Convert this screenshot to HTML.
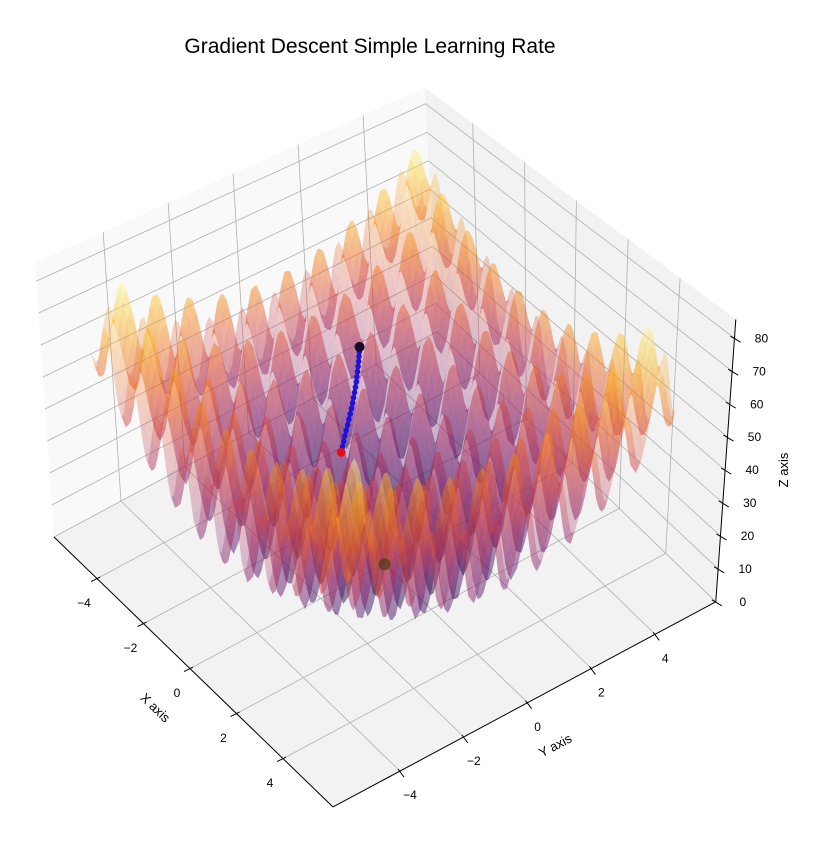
<!DOCTYPE html>
<html><head><meta charset="utf-8"><style>
html,body{margin:0;padding:0;background:#fff;}
svg{display:block;font-family:"Liberation Sans","DejaVu Sans",sans-serif;}
</style></head><body>
<svg id="chart" width="829" height="866" viewBox="0 0 829 866" xmlns="http://www.w3.org/2000/svg">
<text x="370" y="53" font-size="21" text-anchor="middle" fill="#000">Gradient Descent Simple Learning Rate</text>
<g id="panes"></g>
<g id="grid"></g>
<g id="surface"></g>
<g id="axes"></g>
<g id="marks"></g>
<text x="155" y="712" font-size="13" text-anchor="middle" transform="rotate(44 155 708)">X axis</text>
<text x="555" y="750" font-size="13" text-anchor="middle" transform="rotate(-28 555 745)">Y axis</text>
<text x="788" y="470" font-size="13" text-anchor="middle" transform="rotate(-90 788 470)">Z axis</text>
</svg>
<script>
// ---- data ----
const xTicks = [-4, -2, 0, 2, 4];
const yTicks = [-4, -2, 0, 2, 4];
const zTicks = [0, 10, 20, 30, 40, 50, 60, 70, 80];
const pathX = [-1, -1, -1, -1, -1, -1, -1, -1, -1, -1, -1, -1, -1, -1, -1, -1, -1, -1, -1, -1, -1];
const pathY = [0, -0.01, -0.02, -0.03, -0.05, -0.07, -0.09, -0.11, -0.14, -0.17, -0.2, -0.23, -0.27, -0.31, -0.35, -0.39, -0.44, -0.48, -0.52, -0.56, -0.6];
const pathZ = [60.9, 59.4, 58, 56.5, 55, 53.5, 52, 50.5, 49, 47.5, 46, 44.5, 43, 41.5, 40, 38.5, 37, 35.5, 34, 32.5, 31];
const minimumPoint = [0, 0, 0];
const surfRange = [-5.12, 5.12];
const surfN = 100;

// ---- axes ----
const XMIN=-5.85, XMAX=6.15, YMIN=-6.1, YMAX=5.9, ZMIN=0, ZMAX=85.7;
function P(x,y,z){
  const bx=384.6+23.25*x+31.9*y, by=564.3+22.5*x-17.1*y;
  const sz=3.238+0.037*x-0.029*y;
  const sh=(0.16+2.667*x+0.583*y)/85.7;
  return [bx+sh*z, by-sz*z];
}
const NS='http://www.w3.org/2000/svg';
function mk(tag,attrs,parent){const e=document.createElementNS(NS,tag);for(const k in attrs)e.setAttribute(k,attrs[k]);parent.appendChild(e);return e;}
function pts(a){return a.map(p=>p[0].toFixed(1)+','+p[1].toFixed(1)).join(' ');}
function rastrigin(x,y){return 20+x*x-10*Math.cos(2*Math.PI*x)+y*y-10*Math.cos(2*Math.PI*y);}

// panes
const panes=document.getElementById('panes');
let e;
e=mk('polygon',{points:pts([P(XMIN,YMIN,0),P(XMAX,YMIN,0),P(XMAX,YMAX,0),P(XMIN,YMAX,0)]),fill:'#f2f2f2'},panes);


e=mk('polygon',{points:pts([P(XMIN,YMIN,0),P(XMIN,YMAX,0),P(XMIN,YMAX,ZMAX),P(XMIN,YMIN,ZMAX)]),fill:'#f9f9f9'},panes);


e=mk('polygon',{points:pts([P(XMIN,YMAX,0),P(XMAX,YMAX,0),P(XMAX,YMAX,ZMAX),P(XMIN,YMAX,ZMAX)]),fill:'#f2f2f2'},panes);



// grid
const grid=document.getElementById('grid');
function gl(pa,name){const l=mk('polyline',{points:pts(pa),fill:'none',stroke:'#b0b0b0','stroke-width':0.8},grid);}
xTicks.forEach(v=>gl([P(v,YMIN,0),P(v,YMAX,0),P(v,YMAX,ZMAX)],'x-gridline'));
yTicks.forEach(v=>gl([P(XMAX,v,0),P(XMIN,v,0),P(XMIN,v,ZMAX)],'y-gridline'));
zTicks.forEach(v=>gl([P(XMIN,YMIN,v),P(XMIN,YMAX,v),P(XMAX,YMAX,v)],'z-gridline'));

// surface (inferno colormap)
const cm=[[0,0,4],[40,11,84],[101,21,110],[159,42,99],[212,72,66],[245,125,21],[250,193,39],[252,255,164]];
function cmap(t){t=Math.max(0,Math.min(1,t))*(cm.length-1);const i=Math.min(cm.length-2,Math.floor(t)),f=t-i,a=cm[i],b=cm[i+1];
  return 'rgb('+Math.round(a[0]+(b[0]-a[0])*f)+','+Math.round(a[1]+(b[1]-a[1])*f)+','+Math.round(a[2]+(b[2]-a[2])*f)+')';}
const sg=document.getElementById('surface');
const xs=[];for(let i=0;i<surfN;i++)xs.push(surfRange[0]+(surfRange[1]-surfRange[0])*i/(surfN-1));
const Z=xs.map(x=>xs.map(y=>rastrigin(x,y)));
const zmaxS=Math.max(...Z.map(r=>Math.max(...r)));
const quads=[];
for(let i=0;i<surfN-1;i++)for(let j=0;j<surfN-1;j++){
  const zc=(Z[i][j]+Z[i+1][j]+Z[i][j+1]+Z[i+1][j+1])/4;
  quads.push({d:xs[i]-xs[j], i, j, zc});
}
quads.sort((a,b)=>(a.d-b.d)||(a.zc-b.zc));
let frag=document.createDocumentFragment();
for(const q of quads){
  const i=q.i,j=q.j;
  const poly=document.createElementNS(NS,'polygon');
  poly.setAttribute('points',pts([P(xs[i],xs[j],Z[i][j]),P(xs[i+1],xs[j],Z[i+1][j]),P(xs[i+1],xs[j+1],Z[i+1][j+1]),P(xs[i],xs[j+1],Z[i][j+1])]));
  poly.setAttribute('fill',cmap(q.zc/zmaxS));
  poly.setAttribute('fill-opacity','0.28');
  frag.appendChild(poly);
}
sg.appendChild(frag);

// axes lines & ticks
const ax=document.getElementById('axes');
function line(a,b,name,w){const l=mk('line',{x1:a[0],y1:a[1],x2:b[0],y2:b[1],stroke:'#000','stroke-width':w||1},ax);}
function label(p,txt,name){const t=mk('text',{x:p[0],y:p[1],'font-size':12,'text-anchor':'middle','dominant-baseline':'middle'},ax);t.textContent=txt;}
function fmt(v){return v<0?'\u2212'+Math.abs(v):String(v);}
line(P(XMIN,YMIN,0),P(XMAX,YMIN,0),'x-axis-line');
line(P(XMAX,YMIN,0),P(XMAX,YMAX,0),'y-axis-line');
line(P(XMAX,YMAX,0),P(XMAX,YMAX,ZMAX),'z-axis-line');
xTicks.forEach(v=>{const p=P(v,YMIN,0);line([p[0]+3,p[1]-1.5],[p[0]-6,p[1]+3],'x-tick');label([p[0]-13,p[1]+25],fmt(v),'x-tick-label');});
yTicks.forEach(v=>{const p=P(XMAX,v,0);line([p[0]-2,p[1]-2],[p[0]+4,p[1]+6],'y-tick');label([p[0]+10,p[1]+25],fmt(v),'y-tick-label');});
zTicks.forEach(v=>{const p=P(XMAX,YMAX,v);line([p[0]-4,p[1]-2],[p[0]+6,p[1]+4],'z-tick');label([p[0]+27,p[1]+1],fmt(v),'z-tick-label');});

// descent path
const mg=document.getElementById('marks');
const mp=P(minimumPoint[0],minimumPoint[1],minimumPoint[2]);
e=mk('circle',{cx:mp[0],cy:mp[1],r:6,fill:'#4a3a10','fill-opacity':0.7},mg);


const pp=pathX.map((x,k)=>P(x,pathY[k],pathZ[k]));
e=mk('polyline',{points:pts(pp),fill:'none',stroke:'#2010d8','stroke-width':3.5,'stroke-linecap':'round'},mg);


pp.forEach(p=>{const c=mk('circle',{cx:p[0],cy:p[1],r:2.8,fill:'#2010d8'},mg);

});
const s=pp[0],en=pp[pp.length-1];
e=mk('circle',{cx:s[0],cy:s[1],r:5,fill:'#1a0a30'},mg);


e=mk('circle',{cx:en[0],cy:en[1],r:4.5,fill:'#e0101a'},mg);


</script>
</body></html>
